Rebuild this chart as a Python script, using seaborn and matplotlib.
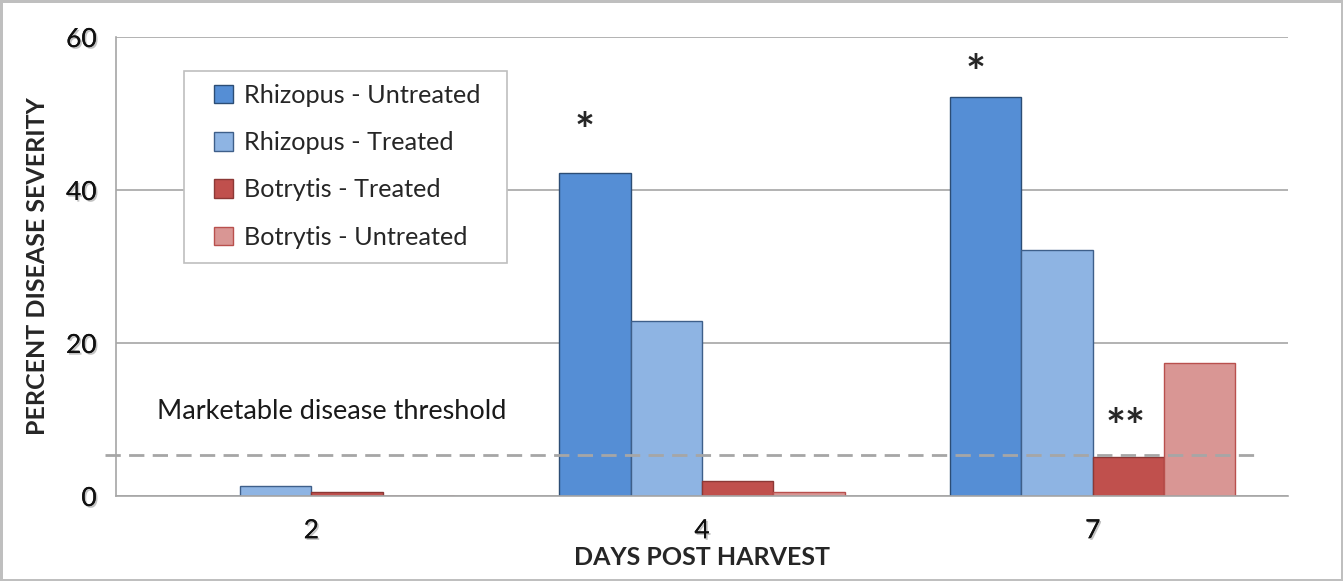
import matplotlib
matplotlib.use("Agg")
import matplotlib.pyplot as plt
import matplotlib.patheffects as pe
from matplotlib.patches import Rectangle
import seaborn as sns
import pandas as pd

# -------------------------------
# Data
# -------------------------------
days = ["2", "4", "7"]
series = ["Rhizopus - Untreated", "Rhizopus - Treated",
          "Botrytis - Treated", "Botrytis - Untreated"]
rhizopus_untreated = [0.0, 42.2, 52.2]
rhizopus_treated = [1.3, 22.9, 32.2]
botrytis_treated = [0.5, 2.0, 5.1]
botrytis_untreated = [0.0, 0.5, 17.4]
threshold = 5.4

fills = ["#558ED5", "#8EB4E3", "#C0504D", "#D99694"]
edges = ["#2C4D75", "#3E5F8A", "#8C3836", "#B9504D"]

rows = []
for name, vals in zip(series, [rhizopus_untreated, rhizopus_treated,
                               botrytis_treated, botrytis_untreated]):
    for d, v in zip(days, vals):
        rows.append({"day": d, "series": name, "value": v})
df = pd.DataFrame(rows)

# -------------------------------
# Plot
# -------------------------------
sns.set_style("white")
plt.rcParams["font.family"] = ["Lato", "DejaVu Sans"]

fig = plt.figure(figsize=(13.43, 5.81), dpi=100)
fig.patch.set_edgecolor("#BFBFBF")
fig.patch.set_linewidth(2.5)
ax = fig.add_axes([0.0864, 0.1463, 0.8727, 0.79])

sns.barplot(data=df, x="day", y="value", hue="series", order=days,
            hue_order=series, palette=fills, width=0.73, gap=0,
            saturation=1, ax=ax, legend=True)

for cont, ec in zip(ax.containers, edges):
    for bar in cont:
        bar.set_edgecolor(ec)
        bar.set_linewidth(1.0)

ax.set_xlim(-0.5, 2.5)
ax.set_ylim(0, 60)
ax.set_yticks([0, 20, 40, 60])
ax.yaxis.grid(True, color="#A6A6A6", linewidth=1.2)
ax.set_axisbelow(True)

for side in ["top", "right"]:
    ax.spines[side].set_visible(False)
for side in ["left", "bottom"]:
    ax.spines[side].set_color("#A6A6A6")
    ax.spines[side].set_linewidth(1.2)

ax.tick_params(axis="y", length=8, width=1.2, color="#A6A6A6",
               labelsize=19, pad=6)
ax.tick_params(axis="x", which="major", length=0, labelsize=19, pad=16)
ax.set_xticks([-0.5, 0.5, 1.5, 2.5], minor=True)
ax.tick_params(axis="x", which="minor", length=8, width=1.2, color="#A6A6A6")

shadow = [pe.withSimplePatchShadow(offset=(1.2, -1.2), shadow_rgbFace="#888888",
                                   alpha=0.5), pe.Normal()]
for lab in ax.get_xticklabels() + ax.get_yticklabels():
    lab.set_path_effects(shadow)
    lab.set_color("#111111")

ax.set_xlabel("DAYS POST HARVEST", fontsize=18, fontweight="bold", labelpad=2)
ax.set_ylabel("PERCENT DISEASE SEVERITY", fontsize=18, fontweight="bold",
              labelpad=12)

# threshold line + label
ax.axhline(threshold, xmin=-0.009, xmax=0.9735, color="#A6A6A6",
           linewidth=2, dashes=(5.5, 3), clip_on=False)
ax.text(-0.395, 11.1, "Marketable disease threshold", fontsize=19.5,
        va="center", ha="left", color="#1a1a1a")

# significance markers
ax.text(0.7, 47.4, "*", fontsize=34, fontweight="bold", ha="center", va="center")
ax.text(1.7, 55.0, "*", fontsize=34, fontweight="bold", ha="center", va="center")
ax.text(2.085, 8.7, "**", fontsize=34, fontweight="bold", ha="center", va="center")

# legend: frame drawn separately so the padding can match the reference box
ax.add_patch(Rectangle((0.058, 0.5076), 0.2756, 0.4183, transform=ax.transAxes,
                       facecolor="white", edgecolor="#BFBFBF", linewidth=1.2,
                       zorder=4))
leg = ax.legend(loc="upper left", bbox_to_anchor=(0.0836, 0.898),
                frameon=False, fontsize=18.2, borderpad=0, labelspacing=0.96,
                handlelength=0.75, handleheight=0.75, handletextpad=0.45,
                borderaxespad=0)
leg.set_zorder(5)
for h, ec in zip(leg.legend_handles, edges):
    h.set_edgecolor(ec)
    h.set_linewidth(1.0)

fig.savefig("out.png", dpi=100, edgecolor=fig.get_edgecolor())
